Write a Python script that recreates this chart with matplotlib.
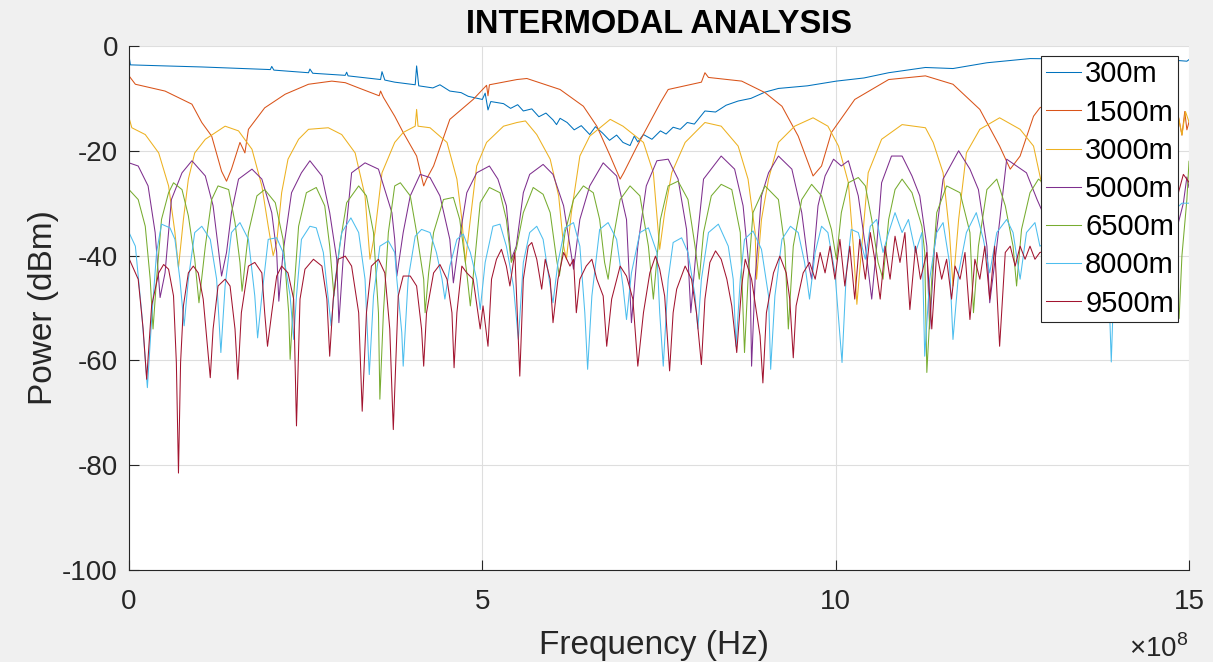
import matplotlib
matplotlib.use('Agg')
import matplotlib.pyplot as plt

plt.rcParams['font.family'] = ['Liberation Sans', 'DejaVu Sans']
plt.rcParams['mathtext.fontset'] = 'custom'
plt.rcParams['mathtext.rm'] = 'Liberation Sans'
plt.rcParams['axes.unicode_minus'] = False

# frequency in units of 1e8 Hz, power in dBm
s300 = [(0, -1.9), (0.02, -3.6), (0.51, -3.8), (1.03, -4.0), (2.0, -4.5), (2.02, -3.9), (2.05, -4.6),
        (2.54, -5.1), (2.56, -4.4), (2.6, -5.2), (3.06, -5.6), (3.08, -5.0), (3.1, -5.7), (3.56, -6.4),
        (3.58, -4.9), (3.62, -6.5), (3.76, -6.9), (4.05, -7.4), (4.07, -3.8), (4.1, -7.6), (4.3, -8.0),
        (4.4, -7.4), (4.54, -8.6), (4.7, -8.9), (4.8, -9.6), (5.0, -10.2), (5.04, -9.0), (5.08, -12.2),
        (5.12, -10.6), (5.3, -11.0), (5.4, -11.9), (5.5, -11.2), (5.58, -12.4), (5.7, -12.0), (5.8, -13.5),
        (5.9, -12.8), (6.0, -14.1), (6.05, -15.0), (6.1, -13.8), (6.2, -14.6), (6.3, -16.0), (6.4, -15.2),
        (6.52, -16.9), (6.6, -15.4), (6.7, -16.6), (6.8, -18.0), (6.9, -17.0), (6.99, -18.4), (7.09, -19.0),
        (7.15, -17.2), (7.2, -18.3), (7.28, -16.9), (7.4, -17.8), (7.52, -16.2), (7.6, -16.8), (7.7, -15.5),
        (7.8, -15.9), (7.9, -14.6), (8.0, -14.9), (8.15, -12.4), (8.3, -12.6), (8.45, -11.3), (8.62, -10.5),
        (8.8, -10.0), (9.0, -8.8), (9.19, -8.1), (9.6, -7.6), (10.01, -6.7), (10.4, -6.1), (10.75, -5.1),
        (11.27, -4.1), (11.66, -4.3), (12.14, -3.2), (12.75, -2.4), (13.5, -2.5), (14.3, -2.2), (14.97, -2.9),
        (15.0, -2.6)]

s1500 = [(0, -5.7), (0.09, -7.3), (0.51, -8.6), (0.89, -11.1), (1.03, -14.6), (1.17, -17.2), (1.31, -23.9),
         (1.38, -25.8), (1.45, -23.5), (1.57, -18.4), (1.64, -20.4), (1.69, -15.9), (1.92, -11.8), (2.21, -9.2),
         (2.54, -7.3), (2.87, -6.7), (3.06, -7.0), (3.25, -8.0), (3.54, -9.5), (3.56, -8.6), (3.6, -9.8),
         (3.76, -13.4), (3.88, -16.5), (4.07, -21.0), (4.17, -26.7), (4.21, -25.4), (4.31, -22.9), (4.54, -14.0),
         (4.87, -10.2), (5.06, -7.5), (5.08, -9.5), (5.1, -7.4), (5.49, -6.4), (5.63, -6.2), (6.1, -8.3),
         (6.43, -11.5), (6.62, -15.3), (6.81, -21.0), (6.95, -25.4), (7.0, -24.2), (7.19, -19.1), (7.52, -10.8),
         (7.63, -8.3), (8.1, -6.9), (8.15, -5.1), (8.2, -6.0), (8.67, -6.7), (9.0, -8.9), (9.24, -11.5),
         (9.47, -17.2), (9.68, -24.8), (9.8, -22.9), (9.94, -16.5), (10.27, -10.2), (10.75, -6.4), (11.27, -5.7),
         (11.66, -7.3), (12.04, -12.1), (12.32, -19.1), (12.47, -23.5), (12.61, -21.0), (12.8, -13.4),
         (12.89, -11.8), (13.4, -8.0), (14.0, -6.5), (14.6, -9.0), (14.85, -13.5), (14.9, -17.0),
         (14.94, -12.5), (14.97, -16.0), (15.0, -14.5)]

s3000 = [(0, -13.7), (0.04, -15.6), (0.23, -16.9), (0.42, -20.4), (0.56, -26.7), (0.65, -35.6), (0.7, -42.3),
         (0.77, -33.1), (0.84, -25.4), (0.93, -20.4), (1.08, -17.8), (1.36, -15.3), (1.55, -16.2), (1.74, -19.7),
         (1.88, -26.7), (1.97, -34.4), (2.04, -40.0), (2.09, -37.5), (2.16, -28.0), (2.25, -21.6), (2.4, -17.8),
         (2.54, -15.9), (2.82, -15.6), (3.01, -16.9), (3.2, -20.4), (3.34, -28.6), (3.41, -40.7), (3.48, -35.6),
         (3.58, -24.2), (3.76, -18.4), (3.88, -16.5), (4.05, -15.3), (4.07, -12.1), (4.09, -15.3), (4.26, -15.6),
         (4.5, -18.4), (4.64, -25.4), (4.71, -33.1), (4.76, -41.3), (4.83, -33.1), (4.92, -22.9), (5.06, -18.4),
         (5.3, -15.3), (5.49, -14.6), (5.61, -14.3), (5.77, -16.9), (5.96, -21.6), (6.08, -28.6), (6.15, -38.2),
         (6.19, -40.7), (6.26, -31.8), (6.38, -21.0), (6.52, -17.2), (6.81, -14.0), (6.99, -15.3), (7.28, -18.4),
         (7.42, -24.2), (7.51, -38.8), (7.58, -31.8), (7.68, -24.2), (7.87, -18.4), (8.15, -14.6), (8.38, -15.3),
         (8.62, -19.1), (8.76, -25.4), (8.86, -35.6), (8.88, -44.5), (8.95, -33.1), (9.05, -25.4), (9.19, -18.4),
         (9.42, -15.3), (9.68, -13.7), (9.89, -15.3), (10.04, -19.1), (10.18, -26.1), (10.25, -38.2),
         (10.3, -49.3), (10.37, -38.2), (10.46, -24.2), (10.65, -17.8), (10.94, -15.0), (11.27, -15.6),
         (11.38, -18.4), (11.52, -24.2), (11.61, -35.6), (11.66, -45.8), (11.74, -33.1), (11.85, -20.4),
         (12.04, -15.9), (12.32, -13.7), (12.61, -15.9), (12.8, -19.1), (12.91, -26.0), (13.3, -40.0),
         (13.8, -22.0), (14.4, -15.0), (14.85, -13.5), (14.9, -17.0), (14.95, -12.5), (15.0, -14.5)]

s5000 = [(0, -22.3), (0.13, -22.9), (0.27, -26.7), (0.37, -35.6), (0.44, -48.0), (0.51, -43.3), (0.6, -29.3),
         (0.75, -24.2), (0.89, -21.9), (1.08, -24.8), (1.19, -30.5), (1.26, -38.2), (1.31, -43.9), (1.38, -39.4),
         (1.45, -31.8), (1.55, -25.4), (1.74, -23.5), (1.88, -25.4), (2.02, -31.8), (2.09, -39.4), (2.12, -48.7),
         (2.18, -39.4), (2.3, -28.0), (2.44, -24.2), (2.56, -21.9), (2.73, -24.8), (2.84, -31.8), (2.94, -40.7),
         (2.97, -52.8), (3.03, -40.7), (3.15, -24.2), (3.34, -22.3), (3.53, -23.5), (3.72, -31.8), (3.76, -36.9),
         (3.79, -43.9), (3.88, -35.6), (3.98, -28.6), (4.12, -24.5), (4.26, -25.1), (4.4, -28.6), (4.54, -36.9),
         (4.59, -45.2), (4.66, -38.2), (4.78, -28.0), (4.92, -24.2), (5.1, -22.9), (5.22, -25.4), (5.34, -30.5),
         (5.41, -40.7), (5.48, -38.2), (5.58, -28.0), (5.67, -24.5), (5.86, -22.6), (6.0, -24.5), (6.15, -30.5),
         (6.24, -38.2), (6.29, -42.6), (6.38, -33.1), (6.52, -26.7), (6.71, -22.3), (6.9, -24.8), (7.04, -33.1),
         (7.11, -52.8), (7.2, -38.2), (7.32, -26.7), (7.47, -21.9), (7.63, -21.6), (7.77, -25.4), (7.89, -35.0),
         (7.95, -50.9), (8.03, -38.2), (8.13, -25.4), (8.38, -21.0), (8.57, -23.5), (8.69, -30.5), (8.79, -44.5),
         (8.81, -61.1), (8.86, -44.5), (8.95, -28.6), (9.05, -24.2), (9.19, -21.0), (9.38, -23.5), (9.52, -31.8),
         (9.61, -41.3), (9.66, -44.5), (9.75, -30.5), (9.85, -24.8), (9.97, -21.6), (10.08, -22.9),
         (10.18, -21.9), (10.32, -28.6), (10.42, -38.2), (10.51, -48.3), (10.58, -38.2), (10.65, -26.1),
         (10.79, -21.0), (10.94, -21.0), (11.08, -24.8), (11.19, -28.6), (11.29, -38.2), (11.33, -54.0),
         (11.4, -38.2), (11.52, -25.4), (11.74, -20.0), (11.9, -23.5), (12.02, -27.4), (12.14, -38.2),
         (12.18, -49.0), (12.28, -38.2), (12.42, -21.6), (12.56, -22.9), (12.7, -24.2), (12.85, -29.3),
         (13.2, -40.0), (13.5, -25.0), (14.0, -22.0), (14.5, -30.0), (14.85, -33.7), (14.92, -30.0),
         (14.97, -25.0), (15.0, -27.0)]

s6500 = [(0, -27.4), (0.13, -29.3), (0.23, -34.4), (0.3, -44.5), (0.34, -54.0), (0.39, -44.5), (0.46, -33.1),
         (0.56, -28.0), (0.63, -26.1), (0.75, -27.4), (0.84, -32.4), (0.93, -40.7), (0.99, -49.0), (1.08, -38.2),
         (1.17, -29.3), (1.26, -26.7), (1.41, -27.4), (1.5, -33.7), (1.57, -41.3), (1.6, -46.8), (1.69, -35.6),
         (1.81, -28.6), (1.92, -27.4), (2.07, -29.9), (2.18, -36.9), (2.26, -50.9), (2.28, -59.8), (2.33, -47.7),
         (2.4, -34.4), (2.51, -28.0), (2.65, -27.0), (2.77, -30.5), (2.84, -38.2), (2.9, -47.7), (2.98, -38.2),
         (3.08, -29.9), (3.25, -26.7), (3.36, -28.6), (3.46, -35.6), (3.53, -50.9), (3.55, -67.4), (3.6, -50.9),
         (3.67, -35.6), (3.76, -26.7), (3.84, -26.1), (3.98, -28.6), (4.07, -35.6), (4.17, -44.5), (4.19, -50.9),
         (4.24, -43.3), (4.31, -35.6), (4.45, -29.3), (4.59, -28.9), (4.68, -33.1), (4.78, -43.3), (4.83, -49.6),
         (4.89, -41.3), (4.97, -29.9), (5.1, -27.0), (5.25, -28.0), (5.34, -33.1), (5.41, -41.3), (5.48, -38.8),
         (5.58, -31.8), (5.72, -27.0), (5.86, -28.3), (5.96, -31.8), (6.05, -40.7), (6.09, -43.9), (6.17, -35.6),
         (6.29, -29.3), (6.43, -26.7), (6.57, -28.0), (6.66, -33.1), (6.73, -41.3), (6.78, -44.5), (6.85, -36.9),
         (6.95, -29.3), (7.09, -26.7), (7.23, -28.6), (7.35, -38.2), (7.42, -48.3), (7.52, -33.1), (7.63, -26.7),
         (7.77, -25.8), (7.91, -29.3), (8.01, -38.2), (8.07, -44.5), (8.13, -35.6), (8.24, -28.6), (8.38, -26.4),
         (8.53, -27.4), (8.65, -35.6), (8.71, -58.5), (8.76, -44.5), (8.83, -31.8), (9.0, -26.7), (9.19, -29.3),
         (9.28, -38.2), (9.33, -54.0), (9.4, -38.2), (9.52, -29.3), (9.66, -26.4), (9.8, -28.6), (9.94, -35.0),
         (10.01, -40.7), (10.08, -31.8), (10.18, -26.1), (10.32, -25.1), (10.42, -26.7), (10.51, -33.1),
         (10.6, -41.3), (10.67, -44.5), (10.75, -33.1), (10.84, -27.4), (10.94, -25.4), (11.08, -28.0),
         (11.22, -34.4), (11.26, -39.4), (11.29, -62.3), (11.36, -44.5), (11.43, -31.8), (11.57, -26.7),
         (11.76, -28.0), (11.9, -35.6), (11.95, -50.9), (12.02, -38.2), (12.14, -27.4), (12.28, -25.4),
         (12.4, -30.5), (12.51, -38.2), (12.56, -45.8), (12.63, -35.0), (12.75, -28.0), (12.87, -25.4),
         (13.3, -30.0), (13.8, -27.0), (14.3, -32.0), (14.8, -40.0), (14.86, -52.0), (14.9, -40.0),
         (14.97, -29.3), (15.0, -22.0)]

s8000 = [(0, -35.6), (0.09, -38.2), (0.18, -50.9), (0.26, -65.2), (0.32, -52.2), (0.39, -39.4), (0.46, -34.0),
         (0.58, -34.7), (0.65, -36.9), (0.72, -44.5), (0.78, -53.4), (0.84, -44.5), (0.93, -35.6), (1.03, -34.4),
         (1.15, -36.9), (1.24, -44.5), (1.3, -58.5), (1.36, -45.8), (1.45, -35.6), (1.57, -33.7), (1.69, -36.9),
         (1.78, -47.7), (1.82, -55.7), (1.88, -47.7), (1.97, -36.9), (2.09, -36.6), (2.18, -39.4), (2.28, -47.7),
         (2.33, -56.0), (2.37, -47.7), (2.44, -36.9), (2.56, -34.4), (2.65, -34.7), (2.75, -39.4), (2.82, -48.3),
         (2.86, -53.4), (2.92, -44.5), (3.01, -35.6), (3.14, -32.8), (3.25, -35.6), (3.34, -44.5), (3.4, -62.7),
         (3.46, -47.7), (3.55, -38.2), (3.67, -37.2), (3.76, -39.4), (3.79, -44.5), (3.86, -54.7), (3.88, -61.1),
         (3.95, -44.5), (4.05, -36.3), (4.14, -35.0), (4.26, -35.6), (4.35, -39.4), (4.43, -44.5), (4.47, -48.3),
         (4.54, -42.0), (4.64, -36.9), (4.73, -35.9), (4.83, -39.4), (4.92, -44.5), (4.97, -50.3), (5.04, -41.3),
         (5.15, -34.4), (5.25, -34.0), (5.34, -38.2), (5.44, -45.8), (5.51, -56.0), (5.58, -41.3), (5.67, -35.6),
         (5.77, -34.4), (5.86, -36.9), (5.96, -45.8), (6.0, -49.0), (6.07, -41.3), (6.17, -34.7), (6.29, -33.7),
         (6.38, -38.2), (6.45, -50.9), (6.49, -61.7), (6.55, -47.7), (6.66, -35.0), (6.78, -33.7), (6.9, -36.9),
         (6.99, -45.8), (7.04, -52.2), (7.11, -43.3), (7.23, -35.6), (7.35, -34.7), (7.47, -39.4), (7.51, -50.9),
         (7.56, -61.1), (7.63, -44.5), (7.7, -37.5), (7.82, -36.6), (7.91, -39.4), (8.01, -47.7), (8.05, -54.0),
         (8.1, -44.5), (8.2, -35.6), (8.34, -34.0), (8.48, -38.2), (8.55, -44.5), (8.59, -57.3), (8.65, -44.5),
         (8.71, -36.9), (8.83, -35.3), (8.95, -38.8), (9.05, -47.7), (9.08, -61.7), (9.14, -47.7), (9.24, -36.9),
         (9.36, -34.4), (9.47, -35.6), (9.56, -41.3), (9.63, -48.3), (9.71, -39.4), (9.8, -34.4), (9.89, -35.6),
         (9.99, -43.3), (10.09, -60.4), (10.15, -43.3), (10.22, -35.0), (10.32, -35.6), (10.42, -40.7),
         (10.49, -34.4), (10.58, -33.1), (10.67, -39.4), (10.75, -35.6), (10.84, -31.8), (10.94, -35.6),
         (11.03, -33.1), (11.13, -39.4), (11.22, -35.6), (11.26, -59.2), (11.33, -44.5), (11.43, -35.6),
         (11.52, -33.7), (11.61, -41.3), (11.66, -56.0), (11.74, -43.3), (11.85, -35.6), (11.99, -31.8),
         (12.09, -36.9), (12.18, -43.3), (12.28, -35.6), (12.42, -33.1), (12.51, -35.6), (12.61, -44.5),
         (12.7, -35.6), (12.82, -33.7), (12.89, -38.2), (13.3, -35.0), (13.85, -40.0), (13.9, -60.3),
         (13.95, -40.0), (14.5, -35.0), (14.9, -30.0), (15.0, -30.0)]

s9500 = [(0, -26.7), (0.005, -40.7), (0.13, -44.5), (0.2, -54.0), (0.25, -63.6), (0.32, -49.6), (0.42, -43.3),
         (0.49, -41.7), (0.56, -42.6), (0.63, -47.7), (0.67, -60.4), (0.7, -81.5), (0.73, -60.4), (0.77, -49.6),
         (0.84, -43.3), (0.91, -42.0), (0.98, -43.3), (1.05, -48.3), (1.11, -57.3), (1.15, -63.3), (1.19, -54.0),
         (1.26, -45.8), (1.36, -44.5), (1.43, -45.8), (1.5, -54.0), (1.54, -63.6), (1.59, -50.9), (1.69, -42.0),
         (1.78, -41.3), (1.88, -43.3), (1.92, -50.9), (1.96, -57.3), (2.02, -50.9), (2.09, -43.9), (2.16, -42.0),
         (2.25, -43.3), (2.33, -48.3), (2.37, -72.5), (2.42, -48.3), (2.49, -42.6), (2.61, -40.7), (2.73, -42.0),
         (2.8, -48.3), (2.84, -59.2), (2.89, -48.3), (2.96, -40.7), (3.06, -40.1), (3.15, -42.0), (3.25, -50.9),
         (3.3, -69.7), (3.36, -50.9), (3.43, -42.0), (3.53, -40.7), (3.62, -43.3), (3.69, -54.0), (3.74, -73.2),
         (3.81, -47.7), (3.88, -43.9), (3.98, -43.9), (4.07, -45.8), (4.14, -54.0), (4.17, -61.1), (4.21, -50.9),
         (4.31, -43.3), (4.4, -41.7), (4.5, -44.5), (4.57, -50.9), (4.6, -61.4), (4.64, -50.9), (4.71, -42.0),
         (4.78, -43.3), (4.87, -44.5), (4.97, -54.0), (5.01, -49.6), (5.08, -57.3), (5.13, -44.5), (5.2, -40.7),
         (5.27, -38.8), (5.34, -42.0), (5.39, -45.8), (5.46, -39.4), (5.53, -63.0), (5.58, -44.5), (5.65, -38.2),
         (5.7, -37.5), (5.77, -40.7), (5.84, -46.4), (5.89, -40.7), (5.96, -44.5), (6.0, -52.8), (6.07, -44.5),
         (6.15, -39.4), (6.24, -42.0), (6.29, -40.7), (6.33, -50.9), (6.38, -44.5), (6.47, -42.0), (6.55, -40.7),
         (6.62, -44.5), (6.71, -47.7), (6.76, -57.3), (6.83, -48.3), (6.95, -42.0), (7.04, -43.9), (7.13, -48.3),
         (7.2, -61.1), (7.28, -50.9), (7.37, -43.3), (7.45, -40.1), (7.51, -42.6), (7.58, -47.7), (7.65, -62.0),
         (7.7, -50.9), (7.75, -46.4), (7.87, -42.0), (7.96, -44.5), (8.03, -50.9), (8.1, -60.8), (8.15, -48.3),
         (8.22, -41.3), (8.3, -39.1), (8.38, -40.7), (8.46, -44.5), (8.53, -49.6), (8.6, -58.5), (8.67, -45.8),
         (8.72, -40.7), (8.81, -44.5), (8.88, -50.9), (8.93, -55.3), (8.97, -64.3), (9.02, -50.9), (9.12, -43.3),
         (9.21, -40.1), (9.3, -43.3), (9.35, -48.3), (9.4, -59.5), (9.44, -49.6), (9.54, -43.3), (9.63, -41.3),
         (9.71, -44.5), (9.78, -39.4), (9.85, -43.3), (9.92, -38.2), (9.99, -44.5), (10.06, -36.9),
         (10.13, -45.8), (10.2, -38.2), (10.27, -48.3), (10.34, -36.9), (10.42, -44.5), (10.49, -35.6),
         (10.56, -41.3), (10.63, -48.3), (10.7, -38.2), (10.77, -44.5), (10.84, -36.3), (10.91, -41.3),
         (10.98, -35.6), (11.05, -50.3), (11.13, -38.2), (11.2, -44.5), (11.29, -39.4), (11.36, -54.0),
         (11.43, -39.4), (11.5, -44.5), (11.57, -40.7), (11.64, -48.3), (11.69, -42.0), (11.76, -44.5),
         (11.83, -39.4), (11.9, -52.2), (11.97, -40.7), (12.04, -44.5), (12.11, -38.2), (12.18, -48.3),
         (12.25, -38.2), (12.32, -57.3), (12.4, -39.4), (12.47, -38.2), (12.54, -42.0), (12.61, -38.2),
         (12.68, -40.7), (12.75, -38.2), (12.82, -40.7), (12.89, -39.4), (13.4, -38.0), (14.0, -36.0),
         (14.6, -30.0), (14.85, -28.0), (14.92, -24.5), (15.0, -26.0)]

labels = ['300m', '1500m', '3000m', '5000m', '6500m', '8000m', '9500m']
series = [s300, s1500, s3000, s5000, s6500, s8000, s9500]
colors = ['#0072BD', '#D95319', '#EDB120', '#7E2F8E', '#77AC30', '#4DBEEE', '#A2142F']

fig = plt.figure(figsize=(12.13, 6.62), dpi=100, facecolor='#f0f0f0')
ax = fig.add_axes([0.10635, 0.13897, 0.87387, 0.79154])

for pts, lab, col in zip(series, labels, colors):
    x, y = zip(*pts)
    ax.plot(x, y, color=col, lw=0.75, label=lab)

ax.set_xlim(0, 15)
ax.set_ylim(-100, 0)
ax.set_xticks([0, 5, 10, 15])
ax.set_yticks([-100, -80, -60, -40, -20, 0])
ax.grid(True, color='#dedede', lw=0.8)
ax.set_axisbelow(True)
for side in ['top', 'right']:
    ax.spines[side].set_visible(False)
for side in ['left', 'bottom']:
    ax.spines[side].set_color('#262626')
    ax.spines[side].set_linewidth(0.8)
ax.tick_params(direction='in', length=7, width=0.8, colors='#262626', labelsize=20, pad=8)
ax.tick_params(axis='x', pad=14)

fig.text(0.5433, 0.9502, 'INTERMODAL ANALYSIS', fontsize=23.5, fontweight='bold',
         ha='center', va='baseline')
fig.text(0.5393, 0.0121, 'Frequency (Hz)', fontsize=24, color='#262626', ha='center', va='baseline')
fig.text(0.036, 0.535, 'Power (dBm)', fontsize=24, color='#262626', ha='center', va='center',
         rotation=90)
fig.text(0.980, 0.0076, r'$\times10^{8}$', fontsize=20, color='#262626', ha='right', va='baseline')

leg = ax.legend(loc='upper right', bbox_to_anchor=(0.99, 0.981), borderaxespad=0, fontsize=21,
                handlelength=1.2, handletextpad=0.15, labelspacing=0.35, borderpad=0.15,
                fancybox=False, framealpha=1, edgecolor='#262626')
leg.get_frame().set_linewidth(0.8)

fig.savefig('out.png', dpi=100, facecolor=fig.get_facecolor())
